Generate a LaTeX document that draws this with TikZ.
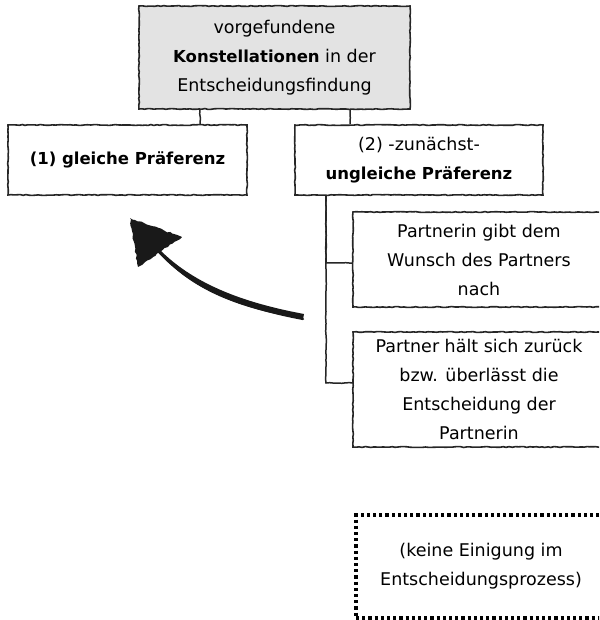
\documentclass[tikz,border=0pt]{standalone}
\usepackage{fontspec}
\setmainfont{DejaVu Sans}
\usetikzlibrary{decorations.pathmorphing}
\definecolor{boxgray}{HTML}{E3E3E3}
\newcommand{\bfx}[1]{{\fontsize{16.5}{29}\selectfont\bfseries #1}}
\tikzset{
  sketch/.style={draw=black!85, line width=1.6pt, decorate,
    decoration={random steps, segment length=3pt, amplitude=0.45pt}},
  card/.style={sketch, rectangle, align=center, inner sep=0pt,
    font=\fontsize{17.5}{29}\selectfont},
  conn/.style={draw=black!85, line width=1.5pt, decorate,
    decoration={random steps, segment length=4pt, amplitude=0.35pt}},
  dotbox/.style={rectangle, align=center, inner sep=0pt, draw=black,
    line width=3.2pt, dash pattern=on 3.2pt off 3pt,
    font=\fontsize{17.5}{29}\selectfont}
}
\begin{document}
\begin{tikzpicture}[x=1pt,y=-1pt]
\useasboundingbox (0,0) rectangle (599,620);
\clip (0,0) rectangle (599,620);
\fill[white] (0,0) rectangle (599,620);

\node[card, fill=boxgray, minimum width=271pt, minimum height=103pt] (top) at (274.5,57.5)
  {vorgefundene\\\bfx{Konstellationen} in der\\Entscheidungsfindung};
\node[card, minimum width=239pt, minimum height=70pt] (b1) at (127.5,160)
  {\bfx{(1) gleiche Präferenz}};
\node[card, minimum width=248pt, minimum height=70pt] (b2) at (419,160)
  {(2) -zunächst-\\\bfx{ungleiche Präferenz}};
\node[card, minimum width=252pt, minimum height=95pt] (b3) at (479,259.5)
  {Partnerin gibt dem\\Wunsch des Partners\\nach};
\node[card, minimum width=252pt, minimum height=115pt] (b4) at (479,389.5)
  {Partner hält sich zurück\\bzw. überlässt die\\Entscheidung der\\Partnerin};
\node[dotbox, minimum width=250pt, minimum height=103pt] (b5) at (481,566.5)
  {(keine Einigung im\\Entscheidungsprozess)};

\coordinate (c1) at (200,0);
\coordinate (c2) at (350,0);
\coordinate (trunk) at (326,0);
\draw[conn] (top.south -| c1) -- (b1.north -| c1);
\draw[conn] (top.south -| c2) -- (b2.north -| c2);
\draw[conn] (b2.south -| trunk) |- ([yshift=-3.5pt]b3.west);
\draw[conn] (b2.south -| trunk) |- ([yshift=6.5pt]b4.west);

% sketchy curved arrow
\coordinate (atail) at (303,319);
\coordinate (abase) at (158,251);
\coordinate (atip) at (130,218);
\fill[black!90] (atail) .. controls (240,309) and (190,290) .. (abase)
  -- (160,250) .. controls (195,285) and (245,303) .. (304,314) -- cycle;
\draw[black!90, line width=2.2pt, line cap=round] (atail) .. controls (240,307) and (192,288) .. (abase);
\fill[black!90, decorate, decoration={random steps, segment length=3pt, amplitude=0.8pt}]
  (atip) -- (182,237) -- (138,267) -- cycle;
\end{tikzpicture}
\end{document}
